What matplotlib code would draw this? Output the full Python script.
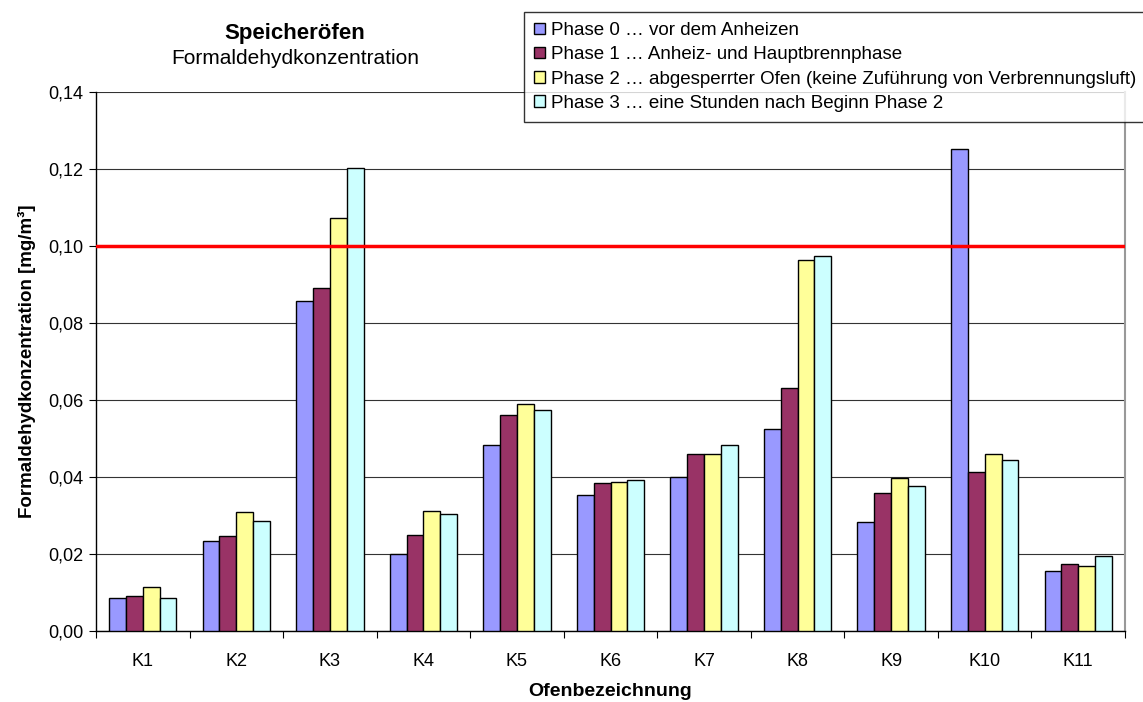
import numpy as np
import matplotlib
matplotlib.use("Agg")
import matplotlib.pyplot as plt
from matplotlib.ticker import FixedLocator, FuncFormatter

plt.rcParams['font.family'] = ['Liberation Sans', 'DejaVu Sans']

ofen = ['K1', 'K2', 'K3', 'K4', 'K5', 'K6', 'K7', 'K8', 'K9', 'K10', 'K11']
phase0 = [0.0085, 0.0235, 0.0858, 0.0201, 0.0484, 0.0352, 0.0400, 0.0525, 0.0283, 0.1253, 0.0157]
phase1 = [0.0090, 0.0248, 0.0890, 0.0249, 0.0560, 0.0384, 0.0459, 0.0632, 0.0358, 0.0412, 0.0173]
phase2 = [0.0113, 0.0308, 0.1072, 0.0311, 0.0589, 0.0386, 0.0459, 0.0963, 0.0397, 0.0461, 0.0169]
phase3 = [0.0087, 0.0286, 0.1202, 0.0305, 0.0575, 0.0393, 0.0484, 0.0975, 0.0377, 0.0443, 0.0194]
labels = ['Phase 0 \u2026 vor dem Anheizen',
          'Phase 1 \u2026 Anheiz- und Hauptbrennphase',
          'Phase 2 \u2026 abgesperrter Ofen (keine Zuf\u00fchrung von Verbrennungsluft)',
          'Phase 3 \u2026 eine Stunden nach Beginn Phase 2']
colors = ['#9999FF', '#993366', '#FFFF99', '#CCFFFF']
grenzwert = 0.10

fig = plt.figure(figsize=(11.43, 7.02), dpi=100)
ax = fig.add_axes([96/1143, 71/702, (1125-96)/1143, (631-92)/702])

x = np.arange(len(ofen))
w = 0.18
for i, (vals, lab, col) in enumerate(zip([phase0, phase1, phase2, phase3], labels, colors)):
    ax.bar(x + (i - 1.5)*w, vals, width=w, color=col, edgecolor='black',
           linewidth=1.0, label=lab, zorder=3)

ax.axhline(grenzwert, color='#FF0000', linewidth=2.5, zorder=4)

ax.set_xlim(-0.5, len(ofen) - 0.5)
ax.set_ylim(0, 0.14)
ax.set_yticks(np.arange(0, 0.141, 0.02))
ax.yaxis.set_major_formatter(FuncFormatter(lambda v, p: f'{v:.2f}'.replace('.', ',')))
ax.yaxis.grid(True, color='#333333', linewidth=0.8, zorder=0)

ax.xaxis.set_major_locator(FixedLocator(np.arange(-0.5, len(ofen), 1.0)))
ax.xaxis.set_major_formatter(FuncFormatter(lambda v, p: ''))
ax.xaxis.set_minor_locator(FixedLocator(x))
ax.set_xticklabels(ofen, minor=True)
ax.tick_params(axis='x', which='minor', length=0, pad=15.5, labelsize=13)
ax.tick_params(axis='x', which='major', length=5, direction='out')
ax.tick_params(axis='y', length=5, direction='out', labelsize=13, pad=4)

ax.spines['top'].set_visible(False)
ax.spines['right'].set_color('#999999')
ax.spines['right'].set_linewidth(1.5)
ax.spines['left'].set_linewidth(1.0)
ax.spines['bottom'].set_linewidth(1.0)

ax.set_xlabel('Ofenbezeichnung', fontsize=14, fontweight='bold', labelpad=9.5)
ax.set_ylabel('Formaldehydkonzentration [mg/m\u00b3]', fontsize=13.5, fontweight='bold', labelpad=9)

fig.text(295/1143, 1 - 33/702, 'Speicher\u00f6fen', ha='center', va='center',
         fontsize=16, fontweight='bold')
fig.text(295/1143, 1 - 58/702, 'Formaldehydkonzentration', ha='center', va='center',
         fontsize=15)

leg = fig.legend(loc='upper left', bbox_to_anchor=(524/1143, 1 - 12/702),
                 fontsize=13.5, frameon=True, fancybox=False, edgecolor='black',
                 handlelength=0.55, handleheight=0.55, handletextpad=0.35,
                 labelspacing=0.38, borderpad=0.55, borderaxespad=0)
leg.get_frame().set_linewidth(1.0)

fig.savefig('out.png', dpi=100)
